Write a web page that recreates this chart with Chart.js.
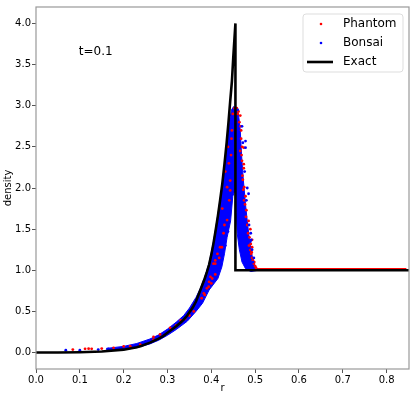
<!DOCTYPE html>
<html>
<head>
<meta charset="utf-8">
<script src="https://cdn.jsdelivr.net/npm/chart.js@4.4.0/dist/chart.umd.min.js"></script>
<style>
  html, body { margin: 0; padding: 0; background: #fff; }
</style>
</head>
<body>
<canvas id="chart" width="415" height="399"></canvas>
<script>
// axis ticks
const xTicks = [0, 0.1, 0.2, 0.3, 0.4, 0.5, 0.6, 0.7, 0.8];
const yTicks = [0, 0.5, 1.0, 1.5, 2.0, 2.5, 3.0, 3.5, 4.0];

// exact solution
const exactR   = [0, 0.05, 0.1, 0.15, 0.2, 0.23, 0.24, 0.26, 0.27, 0.28, 0.29, 0.30, 0.31, 0.32, 0.33, 0.337, 0.345, 0.35, 0.358, 0.365, 0.37, 0.375, 0.38, 0.385, 0.39, 0.395, 0.40, 0.405, 0.41, 0.415, 0.42, 0.425, 0.43, 0.435, 0.439, 0.443, 0.447, 0.45, 0.455, 0.455, 0.851];
const exactRho = [0, 0.001, 0.004, 0.012, 0.035, 0.065, 0.08, 0.12, 0.145, 0.17, 0.2, 0.24, 0.28, 0.32, 0.365, 0.40, 0.45, 0.49, 0.55, 0.62, 0.69, 0.76, 0.83, 0.90, 0.98, 1.07, 1.19, 1.33, 1.49, 1.66, 1.85, 2.05, 2.29, 2.55, 2.79, 3.05, 3.3, 3.58, 4.0, 1.0, 1.0];

// Bonsai particles: outline of the dense band, then loose particles
const bandR   = [0.16, 0.2, 0.23, 0.26, 0.28, 0.30, 0.32, 0.337, 0.35, 0.365, 0.375, 0.385, 0.395, 0.405, 0.415, 0.425, 0.435, 0.441, 0.446, 0.451,
                 0.456, 0.462, 0.466, 0.469, 0.473, 0.478, 0.483, 0.488, 0.494, 0.5, 0.507, 0.49,
                 0.478, 0.47, 0.464, 0.459, 0.457, 0.456,
                 0.449, 0.444, 0.436, 0.43, 0.424, 0.415, 0.395, 0.38, 0.365, 0.345, 0.32, 0.30, 0.28, 0.26, 0.23, 0.2, 0.16];
const bandRho = [0.05, 0.075, 0.11, 0.165, 0.215, 0.285, 0.37, 0.45, 0.54, 0.67, 0.78, 0.92, 1.09, 1.35, 1.68, 2.05, 2.5, 2.8, 2.95, 2.99,
                 2.95, 2.9, 2.7, 2.4, 2.1, 1.8, 1.55, 1.33, 1.15, 1.05, 1.0, 0.985,
                 1.02, 1.1, 1.25, 1.45, 1.7, 2.0,
                 1.9, 1.6, 1.4, 1.2, 1.04, 0.9, 0.76, 0.6, 0.5, 0.38, 0.28, 0.21, 0.15, 0.105, 0.06, 0.035, 0.02];
const bonsaiR   = [0.068, 0.1, 0.142, 0.165, 0.478, 0.478, 0.485, 0.489, 0.491, 0.436, 0.438, 0.47, 0.482, 0.46, 0.495,
                   0.472, 0.476, 0.48, 0.486, 0.49, 0.493, 0.497, 0.44, 0.432];
const bonsaiRho = [0.028, 0.028, 0.036, 0.045, 2.57, 2.49, 1.93, 1.35, 1.37, 1.49, 1.47, 2.75, 2.0, 2.95, 1.1,
                   2.55, 2.2, 1.85, 1.55, 1.45, 1.25, 1.15, 1.7, 1.3];

// Phantom particles
const phantomR   = [0.084, 0.112, 0.12, 0.127, 0.15, 0.177, 0.2, 0.215, 0.238, 0.268, 0.268, 0.283, 0.306, 0.32, 0.33,
                    0.383, 0.39, 0.394, 0.398, 0.40, 0.405, 0.409, 0.409, 0.409, 0.42, 0.424, 0.436, 0.436, 0.443, 0.443, 0.441, 0.445, 0.447, 0.449, 0.453,
                    0.462, 0.466, 0.468, 0.47, 0.474, 0.47, 0.474, 0.474, 0.475, 0.475, 0.478, 0.48, 0.485, 0.489, 0.493, 0.489, 0.493, 0.491, 0.493, 0.497, 0.5, 0.472, 0.468,
                    0.458, 0.46, 0.464, 0.467, 0.466, 0.469, 0.471, 0.473, 0.477, 0.479, 0.482, 0.484, 0.487, 0.486, 0.49, 0.492, 0.495, 0.498, 0.502,
                    0.425, 0.43, 0.432, 0.438, 0.44, 0.446, 0.428, 0.418, 0.414, 0.402, 0.395, 0.385, 0.378, 0.36, 0.35, 0.34];
const phantomRho = [0.036, 0.045, 0.047, 0.045, 0.048, 0.057, 0.075, 0.078, 0.097, 0.157, 0.19, 0.22, 0.30, 0.33, 0.39,
                    0.72, 0.78, 0.80, 0.92, 0.84, 1.08, 0.95, 1.08, 1.12, 1.28, 1.28, 1.61, 2.01, 1.97, 2.09, 1.85, 2.4, 2.7, 2.9, 2.97,
                    2.93, 2.88, 2.7, 2.5, 2.49, 2.33, 2.24, 2.29, 2.01, 1.85, 1.9, 1.73, 1.6, 1.5, 1.37, 1.245, 1.28, 1.2, 1.15, 1.08, 1.05, 2.1, 2.6,
                    2.97, 2.9, 2.8, 2.75, 2.45, 2.4, 2.15, 1.98, 1.8, 1.65, 1.55, 1.45, 1.4, 1.3, 1.32, 1.22, 1.12, 1.1, 1.03,
                    1.75, 1.55, 2.2, 2.5, 2.3, 2.6, 1.45, 1.15, 1.2, 0.9, 0.86, 0.7, 0.66, 0.5, 0.45, 0.41];
const phantomFlatR   = [0.49, 0.845];
const phantomFlatRho = [1.02, 1.02];

const pts = (xs, ys) => xs.map((x, i) => ({ x: x, y: ys[i] }));
const FONT = 'DejaVu Sans';

const frameAndLegend = {
    id: 'frameAndLegend',
    afterDraw(chart) {
        const c = chart.ctx;
        const a = chart.chartArea;
        c.save();
        c.strokeStyle = '#999';
        c.lineWidth = 1.2;
        c.strokeRect(a.left, a.top, a.right - a.left, a.bottom - a.top);

        // time label
        c.fillStyle = '#000';
        c.font = '12px "' + FONT + '"';
        c.textBaseline = 'middle';
        c.textAlign = 'left';
        c.fillText('t=0.1', chart.scales.x.getPixelForValue(0.1) - 1, chart.scales.y.getPixelForValue(3.66));

        // legend
        const items = chart.data.datasets.filter(d => d.legendPos !== undefined)
            .sort((p, q) => p.legendPos - q.legendPos);
        const bx = a.right - 106, by = a.top + 7, bw = 100, bh = 58;
        c.beginPath();
        c.roundRect(bx, by, bw, bh, 3);
        c.fillStyle = 'rgba(255,255,255,0.85)';
        c.fill();
        c.strokeStyle = '#ddd';
        c.lineWidth = 1;
        c.stroke();
        items.forEach((d, i) => {
            const y = by + 10 + i * 19;
            if (d.showLine) {
                c.strokeStyle = d.borderColor;
                c.lineWidth = d.borderWidth;
                c.beginPath();
                c.moveTo(bx + 4, y);
                c.lineTo(bx + 30, y);
                c.stroke();
            } else {
                c.fillStyle = d.backgroundColor;
                c.beginPath();
                c.arc(bx + 18, y, 1.3, 0, Math.PI * 2);
                c.fill();
            }
            c.fillStyle = '#000';
            c.font = '12px "' + FONT + '"';
            c.fillText(d.label, bx + 40, y);
        });
        c.restore();
    }
};

new Chart(document.getElementById('chart'), {
    type: 'scatter',
    data: {
        datasets: [
            {
                label: 'Exact', legendPos: 2, type: 'line', data: pts(exactR, exactRho),
                borderColor: '#000', backgroundColor: '#000', borderWidth: 2.6, pointRadius: 0,
                showLine: true, tension: 0, fill: false, order: 1
            },
            {
                label: 'Bonsai', legendPos: 1, data: pts(bonsaiR, bonsaiRho),
                backgroundColor: '#0000ff', borderWidth: 0, pointRadius: 1.4, showLine: false, order: 2
            },
            {
                label: 'Phantom', legendPos: 0, data: pts(phantomR, phantomRho),
                backgroundColor: '#ff0000', borderWidth: 0, pointRadius: 1.4, showLine: false, order: 3
            },
            {
                label: 'Bonsai band', type: 'line', data: pts(bandR, bandRho),
                borderColor: '#0000ff', backgroundColor: '#0000ff', borderWidth: 1, pointRadius: 0,
                showLine: true, tension: 0, fill: 'shape', order: 4
            },
            {
                label: 'Phantom flat', type: 'line', data: pts(phantomFlatR, phantomFlatRho),
                borderColor: '#ff0000', borderWidth: 1.4, pointRadius: 0, showLine: true, fill: false, order: 5
            }
        ]
    },
    options: {
        responsive: false,
        animation: false,
        devicePixelRatio: 1,
        layout: { padding: { top: 5, right: 6, left: 0, bottom: 0 } },
        plugins: { legend: { display: false }, tooltip: { enabled: false } },
        scales: {
            x: {
                type: 'linear', min: 0, max: 0.851,
                afterBuildTicks: s => { s.ticks = xTicks.map(v => ({ value: v })); },
                afterFit: s => { s.height = 30; },
                ticks: {
                    autoSkip: false, maxRotation: 0, padding: 1, color: '#000',
                    font: { family: FONT, size: 10 },
                    callback: v => v.toFixed(1)
                },
                grid: { drawOnChartArea: false, drawTicks: true, tickLength: 4, color: '#555' },
                border: { display: false },
                title: { display: true, text: 'r', color: '#000', font: { family: FONT, size: 10 }, padding: { top: 0, bottom: 5 } }
            },
            y: {
                type: 'linear', min: -0.2, max: 4.2,
                afterBuildTicks: s => { s.ticks = yTicks.map(v => ({ value: v })); },
                afterFit: s => { s.width = 36; },
                ticks: {
                    autoSkip: false, padding: 1, color: '#000',
                    font: { family: FONT, size: 10 },
                    callback: v => v.toFixed(1)
                },
                grid: { drawOnChartArea: false, drawTicks: true, tickLength: 4, color: '#555' },
                border: { display: false },
                title: { display: true, text: 'density', color: '#000', font: { family: FONT, size: 10 }, padding: { top: 2, bottom: 0 } }
            }
        }
    },
    plugins: [frameAndLegend]
});
</script>
</body>
</html>
